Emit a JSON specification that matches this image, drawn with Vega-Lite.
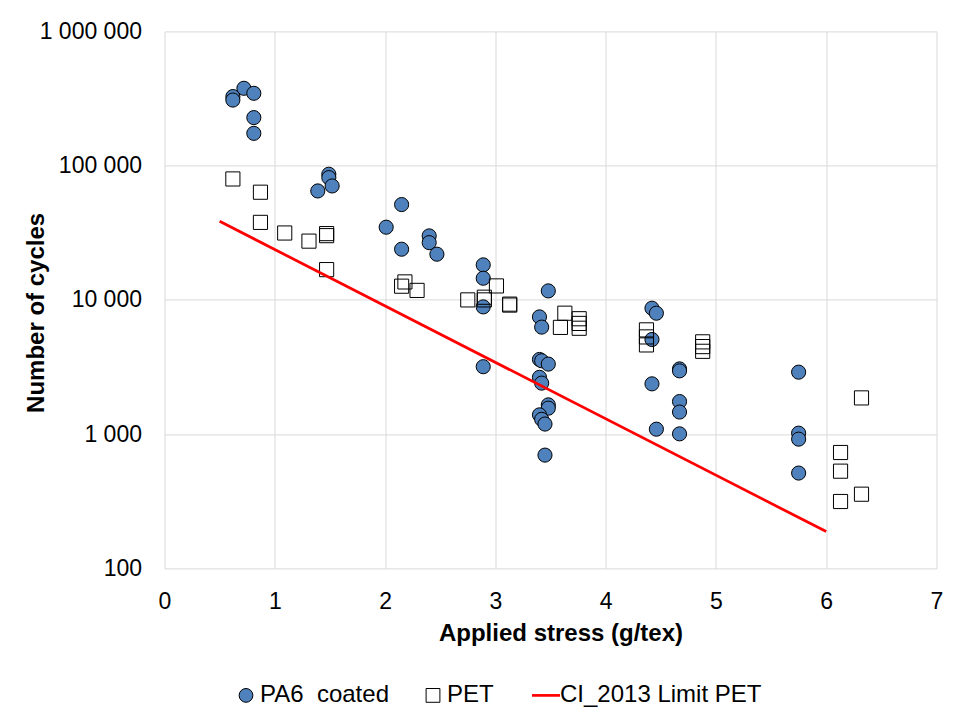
{
  "$schema": "https://vega.github.io/schema/vega-lite/v6.json",
  "width": 772,
  "height": 537,
  "autosize": {"type": "none"},
  "padding": {"left": 164.5, "top": 31.4, "right": 36.5, "bottom": 146.6},
  "background": "white",
  "config": {
    "locale": {"number": {"decimal": ".", "thousands": " ", "grouping": [3], "currency": ["", ""]}},
    "font": "Liberation Sans",
    "view": {"stroke": null},
    "axis": {
      "domain": false,
      "ticks": false,
      "grid": true,
      "gridColor": "#d9d9d9",
      "gridWidth": 1,
      "labelFont": "Liberation Sans",
      "labelFontSize": 23,
      "labelColor": "#000000",
      "labelFlush": false,
      "labelOverlap": false,
      "titleFont": "Liberation Sans",
      "titleFontSize": 24,
      "titleFontWeight": "bold",
      "titleColor": "#000000"
    }
  },
  "datasets": {
    "pts": [
      {"stress": 0.62, "cycles": 327000, "series": "PA6\u00a0 coated"},
      {"stress": 0.62, "cycles": 308000, "series": "PA6\u00a0 coated"},
      {"stress": 0.72, "cycles": 377000, "series": "PA6\u00a0 coated"},
      {"stress": 0.81, "cycles": 346000, "series": "PA6\u00a0 coated"},
      {"stress": 0.81, "cycles": 228000, "series": "PA6\u00a0 coated"},
      {"stress": 0.81, "cycles": 174000, "series": "PA6\u00a0 coated"},
      {"stress": 1.49, "cycles": 86300, "series": "PA6\u00a0 coated"},
      {"stress": 1.49, "cycles": 81400, "series": "PA6\u00a0 coated"},
      {"stress": 1.52, "cycles": 70600, "series": "PA6\u00a0 coated"},
      {"stress": 1.39, "cycles": 64800, "series": "PA6\u00a0 coated"},
      {"stress": 2.15, "cycles": 51300, "series": "PA6\u00a0 coated"},
      {"stress": 2.01, "cycles": 34800, "series": "PA6\u00a0 coated"},
      {"stress": 2.15, "cycles": 23850, "series": "PA6\u00a0 coated"},
      {"stress": 2.40, "cycles": 29970, "series": "PA6\u00a0 coated"},
      {"stress": 2.40, "cycles": 26700, "series": "PA6\u00a0 coated"},
      {"stress": 2.47, "cycles": 21900, "series": "PA6\u00a0 coated"},
      {"stress": 2.89, "cycles": 18230, "series": "PA6\u00a0 coated"},
      {"stress": 2.89, "cycles": 14500, "series": "PA6\u00a0 coated"},
      {"stress": 2.89, "cycles": 8870, "series": "PA6\u00a0 coated"},
      {"stress": 2.89, "cycles": 3180, "series": "PA6\u00a0 coated"},
      {"stress": 3.48, "cycles": 11670, "series": "PA6\u00a0 coated"},
      {"stress": 3.40, "cycles": 7470, "series": "PA6\u00a0 coated"},
      {"stress": 3.42, "cycles": 6270, "series": "PA6\u00a0 coated"},
      {"stress": 3.40, "cycles": 3600, "series": "PA6\u00a0 coated"},
      {"stress": 3.42, "cycles": 3520, "series": "PA6\u00a0 coated"},
      {"stress": 3.48, "cycles": 3325, "series": "PA6\u00a0 coated"},
      {"stress": 3.40, "cycles": 2650, "series": "PA6\u00a0 coated"},
      {"stress": 3.42, "cycles": 2400, "series": "PA6\u00a0 coated"},
      {"stress": 3.48, "cycles": 1652, "series": "PA6\u00a0 coated"},
      {"stress": 3.48, "cycles": 1562, "series": "PA6\u00a0 coated"},
      {"stress": 3.40, "cycles": 1392, "series": "PA6\u00a0 coated"},
      {"stress": 3.42, "cycles": 1289, "series": "PA6\u00a0 coated"},
      {"stress": 3.45, "cycles": 1189, "series": "PA6\u00a0 coated"},
      {"stress": 3.45, "cycles": 698, "series": "PA6\u00a0 coated"},
      {"stress": 4.42, "cycles": 8670, "series": "PA6\u00a0 coated"},
      {"stress": 4.46, "cycles": 7960, "series": "PA6\u00a0 coated"},
      {"stress": 4.42, "cycles": 5070, "series": "PA6\u00a0 coated"},
      {"stress": 4.67, "cycles": 3062, "series": "PA6\u00a0 coated"},
      {"stress": 4.67, "cycles": 2960, "series": "PA6\u00a0 coated"},
      {"stress": 4.42, "cycles": 2370, "series": "PA6\u00a0 coated"},
      {"stress": 4.67, "cycles": 1749, "series": "PA6\u00a0 coated"},
      {"stress": 4.67, "cycles": 1461, "series": "PA6\u00a0 coated"},
      {"stress": 4.46, "cycles": 1089, "series": "PA6\u00a0 coated"},
      {"stress": 4.67, "cycles": 1005, "series": "PA6\u00a0 coated"},
      {"stress": 5.75, "cycles": 2896, "series": "PA6\u00a0 coated"},
      {"stress": 5.75, "cycles": 1017, "series": "PA6\u00a0 coated"},
      {"stress": 5.75, "cycles": 918, "series": "PA6\u00a0 coated"},
      {"stress": 5.75, "cycles": 513, "series": "PA6\u00a0 coated"},
      {"stress": 0.62, "cycles": 79600, "series": "PET"},
      {"stress": 0.87, "cycles": 63400, "series": "PET"},
      {"stress": 0.87, "cycles": 37800, "series": "PET"},
      {"stress": 1.09, "cycles": 31500, "series": "PET"},
      {"stress": 1.31, "cycles": 27400, "series": "PET"},
      {"stress": 1.47, "cycles": 31170, "series": "PET"},
      {"stress": 1.47, "cycles": 30100, "series": "PET"},
      {"stress": 1.47, "cycles": 16810, "series": "PET"},
      {"stress": 2.15, "cycles": 12650, "series": "PET"},
      {"stress": 2.18, "cycles": 13610, "series": "PET"},
      {"stress": 2.29, "cycles": 11770, "series": "PET"},
      {"stress": 2.75, "cycles": 10000, "series": "PET"},
      {"stress": 2.90, "cycles": 10470, "series": "PET"},
      {"stress": 2.90, "cycles": 10000, "series": "PET"},
      {"stress": 3.01, "cycles": 12710, "series": "PET"},
      {"stress": 3.13, "cycles": 9150, "series": "PET"},
      {"stress": 3.13, "cycles": 9300, "series": "PET"},
      {"stress": 3.63, "cycles": 7960, "series": "PET"},
      {"stress": 3.76, "cycles": 7240, "series": "PET"},
      {"stress": 3.76, "cycles": 6680, "series": "PET"},
      {"stress": 3.76, "cycles": 6150, "series": "PET"},
      {"stress": 3.59, "cycles": 6240, "series": "PET"},
      {"stress": 4.37, "cycles": 5980, "series": "PET"},
      {"stress": 4.37, "cycles": 5300, "series": "PET"},
      {"stress": 4.37, "cycles": 4620, "series": "PET"},
      {"stress": 4.88, "cycles": 4870, "series": "PET"},
      {"stress": 4.88, "cycles": 4490, "series": "PET"},
      {"stress": 4.88, "cycles": 4140, "series": "PET"},
      {"stress": 6.32, "cycles": 1862, "series": "PET"},
      {"stress": 6.13, "cycles": 730, "series": "PET"},
      {"stress": 6.13, "cycles": 530, "series": "PET"},
      {"stress": 6.13, "cycles": 315, "series": "PET"},
      {"stress": 6.32, "cycles": 357, "series": "PET"}
    ],
    "limit": [
      {"stress": 0.5, "cycles": 38500, "series": "CI_2013 Limit PET"},
      {"stress": 6.0, "cycles": 188, "series": "CI_2013 Limit PET"}
    ]
  },
  "encoding": {
    "x": {
      "field": "stress",
      "type": "quantitative",
      "scale": {"domain": [0, 7], "nice": false, "zero": false},
      "axis": {
        "values": [0, 1, 2, 3, 4, 5, 6, 7],
        "format": "d",
        "labelPadding": 22,
        "title": "Applied stress (g/tex)",
        "titlePadding": 8,
        "titleX": 396
      }
    },
    "y": {
      "field": "cycles",
      "type": "quantitative",
      "scale": {"type": "log", "domain": [100, 1000000], "nice": false},
      "axis": {
        "values": [100, 1000, 10000, 100000, 1000000],
        "format": ",d",
        "labelPadding": 23,
        "title": "Number of cycles",
        "titleX": -116,
        "titleY": 281
      }
    }
  },
  "layer": [
    {
      "data": {"name": "pts"},
      "mark": {"type": "point", "filled": true, "size": 200, "opacity": 1},
      "encoding": {
        "color": {
          "field": "series", "type": "nominal",
          "scale": {"domain": ["PA6\u00a0 coated", "PET", "CI_2013 Limit PET"], "range": ["#4f81bd", "transparent", "transparent"]},
          "legend": {"title": null, "orient": "none", "legendX": 69.5, "legendY": 652, "direction": "horizontal", "columnPadding": 32, "labelOffset": 2, "labelFontSize": 24, "labelFont": "Liberation Sans", "labelColor": "#000000", "labelLimit": 400, "symbolSize": 190, "padding": 0}
        },
        "stroke": {
          "field": "series", "type": "nominal",
          "scale": {"domain": ["PA6\u00a0 coated", "PET", "CI_2013 Limit PET"], "range": ["#000000", "#000000", "#ff0000"]},
          "legend": {"title": null, "orient": "none", "legendX": 69.5, "legendY": 652, "direction": "horizontal", "columnPadding": 32, "labelOffset": 2, "labelFontSize": 24, "labelFont": "Liberation Sans", "labelColor": "#000000", "labelLimit": 400, "symbolSize": 190, "padding": 0}
        },
        "shape": {
          "field": "series", "type": "nominal",
          "scale": {"domain": ["PA6\u00a0 coated", "PET", "CI_2013 Limit PET"], "range": ["circle", "square", "M-2.03,0H2.03"]},
          "legend": {"title": null, "orient": "none", "legendX": 69.5, "legendY": 652, "direction": "horizontal", "columnPadding": 32, "labelOffset": 2, "labelFontSize": 24, "labelFont": "Liberation Sans", "labelColor": "#000000", "labelLimit": 400, "symbolSize": 190, "padding": 0}
        },
        "strokeWidth": {
          "field": "series", "type": "nominal",
          "scale": {"type": "ordinal", "domain": ["PA6\u00a0 coated", "PET", "CI_2013 Limit PET"], "range": [1, 1, 2.7]},
          "legend": {"title": null, "orient": "none", "legendX": 69.5, "legendY": 652, "direction": "horizontal", "columnPadding": 32, "labelOffset": 2, "labelFontSize": 24, "labelFont": "Liberation Sans", "labelColor": "#000000", "labelLimit": 400, "symbolSize": 190, "padding": 0}
        }
      }
    },
    {
      "data": {"name": "limit"},
      "mark": {"type": "line", "strokeWidth": 2.75, "color": "#ff0000"},
      "encoding": {}
    }
  ]
}
